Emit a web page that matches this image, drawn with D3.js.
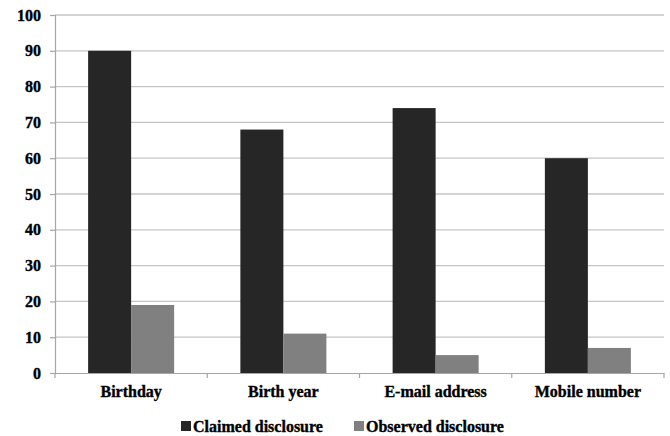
<!DOCTYPE html>
<html>
<head>
<meta charset="utf-8">
<script src="https://cdn.jsdelivr.net/npm/d3@7"></script>
<style>
  html, body { margin: 0; padding: 0; background: #fff; }
  svg text { font-family: "Liberation Serif", "Times New Roman", serif; font-weight: bold; fill: #000; }
</style>
</head>
<body>
<svg id="chart" width="670" height="436"></svg>
<script>
// Disclosure of personal details: claimed vs observed (%)
const categories = ["Birthday", "Birth year", "E-mail address", "Mobile number"];
const seriesNames = ["Claimed disclosure", "Observed disclosure"];
const claimed = [90, 68, 74, 60];
const observed = [19, 11, 5, 7];
const yTicks = [0, 10, 20, 30, 40, 50, 60, 70, 80, 90, 100];
const colors = ["#262626", "#808080"];

const svg = d3.select("#chart");
const margin = { left: 55, right: 6, top: 15, bottom: 63 };
const W = 670, H = 436;
const FONT = "16px";

const x = d3.scaleBand().domain(categories)
  .range([margin.left, W - margin.right]).paddingInner(0).paddingOuter(0);
const inner = d3.scaleBand().domain(seriesNames)
  .range([0, x.bandwidth()]).paddingInner(0).paddingOuter(0.77);
const y = d3.scaleLinear().domain([0, 100]).range([H - margin.bottom, margin.top]);

// horizontal gridlines
svg.append("g")
  .selectAll("line").data(yTicks.filter(d => d > 0)).join("line")
  .attr("x1", margin.left).attr("x2", W - margin.right)
  .attr("y1", d => y(d)).attr("y2", d => y(d))
  .attr("stroke", "#c6c6c6").attr("stroke-width", 1.3);

// y axis
const yAxis = d3.axisLeft(y).tickValues(yTicks).tickSize(5).tickPadding(9);
const gy = svg.append("g").attr("transform", `translate(${margin.left},0)`).call(yAxis);
gy.select(".domain").attr("stroke", "#a6a6a6").attr("stroke-width", 1.2);
gy.selectAll(".tick line").attr("stroke", "#a6a6a6").attr("stroke-width", 1.2);
gy.selectAll(".tick text").style("font-size", FONT)
  .style("font-family", "'Liberation Serif', serif").style("font-weight", "bold")
  .attr("stroke", "#000").attr("stroke-width", 0.35);

// bars
const rows = categories.map((c, i) => ({ cat: c, vals: [claimed[i], observed[i]] }));
const groups = svg.append("g").selectAll("g").data(rows).join("g")
  .attr("transform", d => `translate(${x(d.cat)},0)`);
groups.selectAll("rect").data(d => d.vals.map((v, j) => ({ v, s: seriesNames[j], j })))
  .join("rect")
  .attr("x", d => inner(d.s))
  .attr("width", inner.bandwidth())
  .attr("y", d => y(d.v))
  .attr("height", d => y(0) - y(d.v))
  .attr("fill", d => colors[d.j]);

// x axis
const xAxis = d3.axisBottom(x).tickSize(0).tickPadding(13);
const gx = svg.append("g").attr("transform", `translate(0,${y(0)})`).call(xAxis);
gx.select(".domain").attr("stroke", "#a6a6a6").attr("stroke-width", 1.2);
gx.selectAll(".tick text").style("font-size", FONT)
  .style("font-family", "'Liberation Serif', serif").style("font-weight", "bold")
  .attr("stroke", "#000").attr("stroke-width", 0.35);
// category boundary ticks
svg.append("g").selectAll("line")
  .data(categories.map(c => x(c)).concat([x(categories[categories.length - 1]) + x.bandwidth()]))
  .join("line")
  .attr("x1", d => d).attr("x2", d => d)
  .attr("y1", y(0)).attr("y2", y(0) + 5)
  .attr("stroke", "#a6a6a6").attr("stroke-width", 1.2);

// legend
const legendX = [181, 354];
const legend = svg.append("g").selectAll("g").data(seriesNames).join("g")
  .attr("transform", (d, i) => `translate(${legendX[i]},426)`);
legend.append("rect").attr("x", 0).attr("y", -5).attr("width", 10).attr("height", 10)
  .attr("fill", (d, i) => colors[i]);
legend.append("text").attr("x", 12).attr("y", 0).attr("dy", "0.35em")
  .style("font-size", FONT).attr("stroke", "#000").attr("stroke-width", 0.35)
  .text(d => d);
</script>
</body>
</html>
